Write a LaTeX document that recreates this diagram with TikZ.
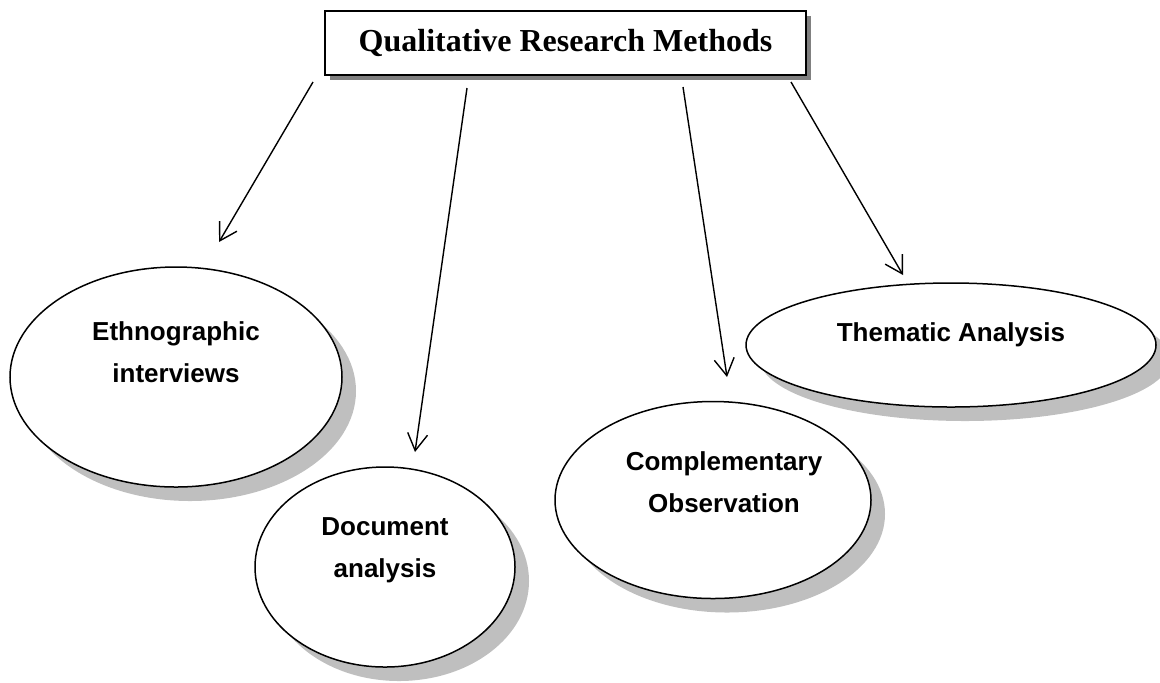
\documentclass[tikz,border=0pt]{standalone}
\usepackage{fontspec}
\setmainfont{Liberation Serif}
\newfontfamily\arialfont{Liberation Sans}
\usetikzlibrary{shapes.geometric,shadows,arrows.meta}

\begin{document}
\begin{tikzpicture}[x=0.5pt,y=-0.5pt,
    titlebox/.style={rectangle,draw=black,line width=0.9pt,fill=white,inner sep=0pt,
        minimum width=240.5pt,minimum height=32pt,font=\bfseries\fontsize{16}{19}\selectfont,
        drop shadow={shadow xshift=2.5pt,shadow yshift=-2.5pt,opacity=1,fill=gray}},
    method/.style={ellipse,draw=black,line width=0.75pt,fill=white,inner sep=0pt,
        drop shadow={shadow xshift=7pt,shadow yshift=-7pt,opacity=1,fill=gray!50}},
    methodtext/.style={align=center,inner sep=0pt,font=\arialfont\bfseries\fontsize{13}{21}\selectfont},
    link/.style={line width=0.7pt,-{Straight Barb[length=8.5pt,width=10pt,line width=0.7pt]}}]
            \useasboundingbox (0,0) rectangle (1160,682);

            \node[titlebox] (qrm) at (565.5,43) {Qualitative Research Methods};

            \node[method,minimum width=166pt,minimum height=110pt] (ethno) at (176,377) {};
            \node[methodtext] (ethnot) at (176,352) {Ethnographic\\interviews};

            \node[method,minimum width=130pt,minimum height=100pt] (doc) at (385,567) {};
            \node[methodtext] (doct) at (385,550) {Document\\analysis};

            \node[method,minimum width=158pt,minimum height=98.5pt] (comp) at (713,500) {};
            \node[methodtext] (compt) at (724,482) {Complementary\\Observation};

            \node[method,minimum width=205pt,minimum height=62pt] (them) at (951,345) {};
            \node[methodtext] (themt) at (951,335) {Thematic Analysis};

            \coordinate (s1) at (313,82);
            \coordinate (e1) at (219,242);
            \coordinate (s2) at (467,88);
            \coordinate (e2) at (415,452);
            \coordinate (s3) at (683,87);
            \coordinate (e3) at (727,377);
            \coordinate (s4) at (791,82);
            \coordinate (e4) at (903,275);
            \draw[link] (s1) -- (e1);
            \draw[link] (s2) -- (e2);
            \draw[link] (s3) -- (e3);
            \draw[link] (s4) -- (e4);
        \end{tikzpicture}
\end{document}
